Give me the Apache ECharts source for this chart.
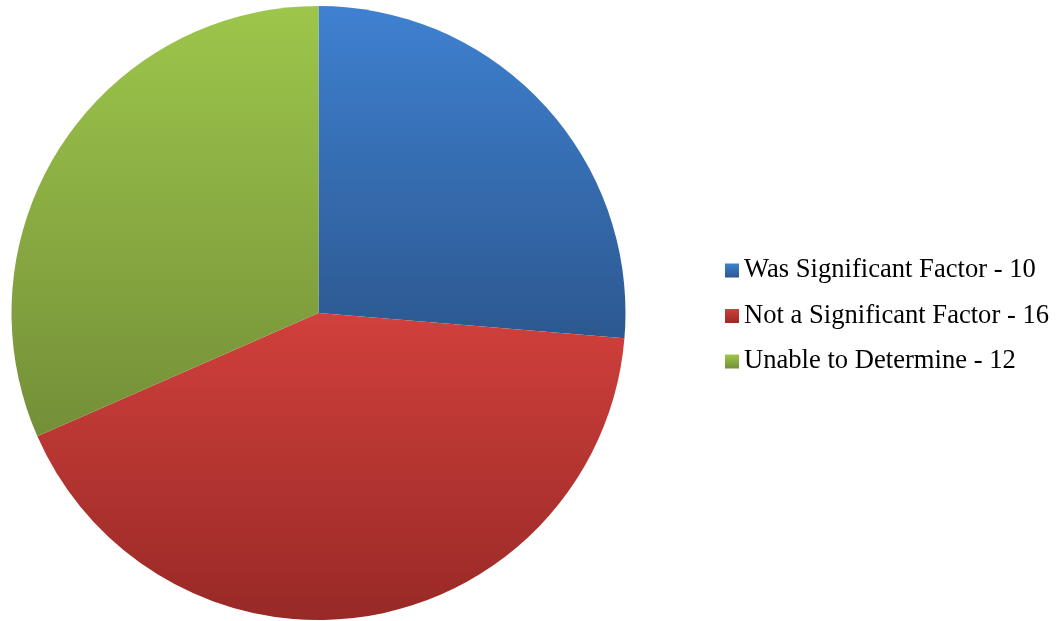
<!DOCTYPE html>
<html><head><meta charset="utf-8">
<script src="https://cdn.jsdelivr.net/npm/echarts@6/dist/echarts.min.js"></script>
<style>html,body{margin:0;padding:0;background:#fff}#c{width:1063px;height:621px}</style>
</head><body><div id="c"></div>
<script>
const categories = ['Was Significant Factor', 'Not a Significant Factor', 'Unable to Determine'];
const values = [10, 16, 12];
const topColors = ['#3f81d1', '#d1403c', '#9dc64b'];
const bottomColors = ['#2c5890', '#982926', '#748f38'];

const chart = echarts.init(document.getElementById('c'));
chart.setOption({
  animation: false,
  legend: {
    orient: 'vertical',
    left: 720,
    top: 252,
    itemWidth: 14,
    itemHeight: 14,
    itemGap: 18.5,
    icon: 'rect',
    textStyle: {fontFamily: 'Liberation Serif', fontSize: 26.6, color: '#000'},
    formatter: function(name){ const i = categories.indexOf(name); return name + ' - ' + values[i]; }
  },
  series: [{
    type: 'pie',
    center: [318.5, 313],
    radius: 307,
    startAngle: 90,
    clockwise: true,
    label: {show: false},
    labelLine: {show: false},
    emphasis: {disabled: true},
    data: categories.map((c, i) => ({
      name: c,
      value: values[i],
      itemStyle: {color: new echarts.graphic.LinearGradient(0, 0, 0, 1, [
        {offset: 0, color: topColors[i]}, {offset: 1, color: bottomColors[i]}])}
    }))
  }]
});
</script></body></html>
